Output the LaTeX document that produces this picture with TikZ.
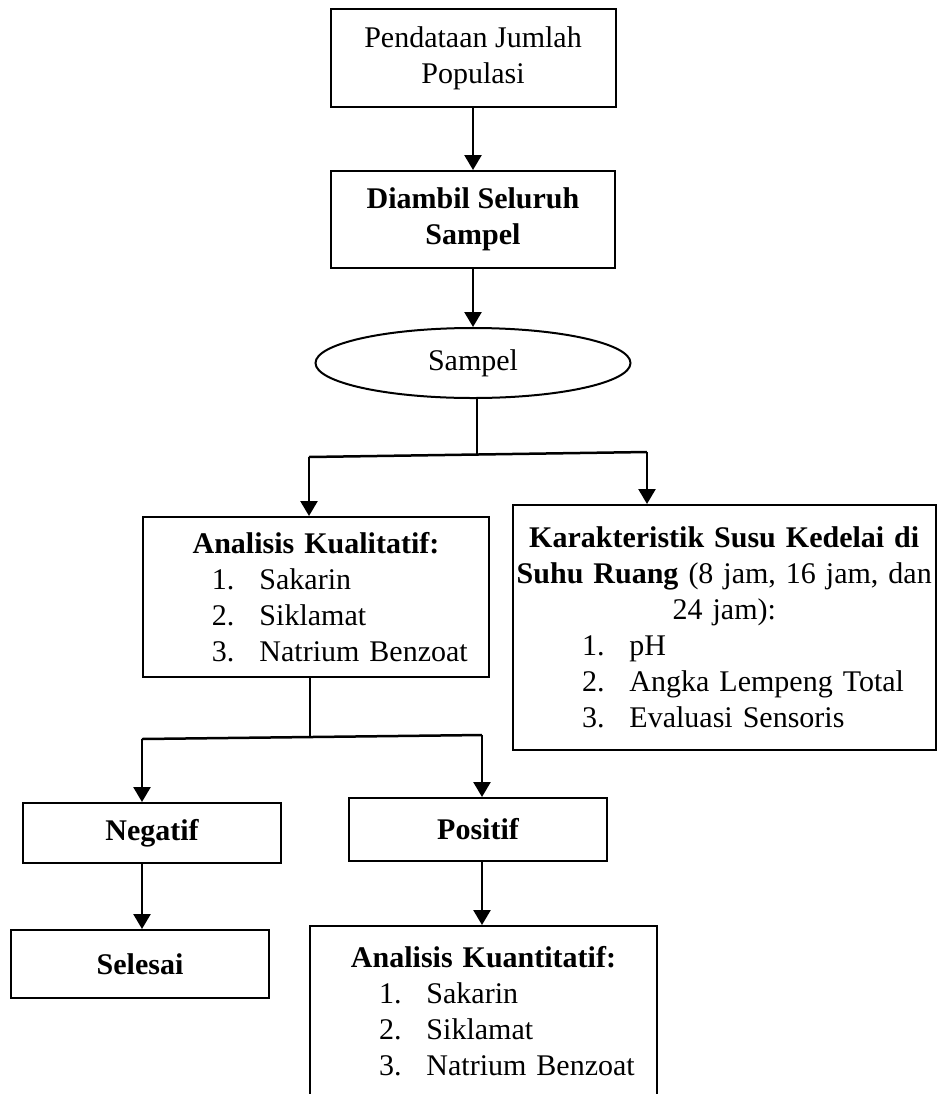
\documentclass[tikz,border=0pt]{standalone}
\usepackage{fontspec}
\setmainfont{Liberation Serif}
\usetikzlibrary{arrows.meta,shapes.geometric}
\newcommand{\listline}[2]{\hspace*{27.6pt}\makebox[19pt][l]{#1}#2}
\newcommand{\midline}[1]{\makebox[\hsize][c]{#1}}

\begin{document}
\begin{tikzpicture}[
  x=0.4pt, y=-0.4pt,
  box/.style={draw,line width=0.8pt,align=center,inner sep=0pt,font=\fontsize{12pt}{14.4pt}\selectfont},
  boldbox/.style={box,font=\fontsize{12pt}{14.4pt}\selectfont\bfseries},
  listbox/.style={box,align=left},
  oval/.style={box,ellipse},
  arrow/.style={-{Triangle[width=6.8pt,length=6pt]},line width=1pt},
  link/.style={line width=1pt}
]
  \useasboundingbox (0,0) rectangle (937,1094);

  \node[box,minimum width=114pt,minimum height=39.2pt] (pend) at (473,58) {Pendataan Jumlah\\Populasi};
  \node[boldbox,minimum width=113.6pt,minimum height=38.8pt] (ambil) at (473,219.5) {Diambil Seluruh\\Sampel};
  \node[oval,minimum width=126pt,minimum height=28pt] (sampel) at (473,363) {Sampel};

  \node[listbox,text width=138.4pt,minimum height=64pt] (kual) at (316,597)
    {\noindent\midline{\textbf{Analisis Kualitatif:}}\\
     \listline{1.}{Sakarin}\\
     \listline{2.}{Siklamat}\\
     \listline{3.}{Natrium Benzoat}};
  \node[listbox,text width=169pt,minimum height=98pt] (karak) at (724.25,627.5)
    {\noindent\midline{\textbf{Karakteristik Susu Kedelai di}}\\
     \midline{\textbf{Suhu Ruang} (8 jam, 16 jam, dan}\\
     \midline{24 jam):}\\
     \listline{1.}{pH}\\
     \listline{2.}{Angka Lempeng Total}\\
     \listline{3.}{Evaluasi Sensoris}};

  \node[boldbox,minimum width=103.2pt,minimum height=24pt] (neg) at (152,833) {Negatif};
  \node[boldbox,minimum width=103.2pt,minimum height=25.2pt] (pos) at (478,829.5) {Positif};
  \node[boldbox,minimum width=103.2pt,minimum height=27.2pt] (sel) at (140,964) {Selesai};
  \node[listbox,text width=138.8pt,anchor=north,inner ysep=8pt,text depth=70pt] (kuan) at (483.5,925)
    {\noindent\midline{\textbf{Analisis Kuantitatif:}}\\
     \listline{1.}{Sakarin}\\
     \listline{2.}{Siklamat}\\
     \listline{3.}{Natrium Benzoat}};

  \coordinate (fork1) at (477,454);
  \coordinate (fork1l) at (309,457);
  \coordinate (fork1r) at (647,452);
  \coordinate (fork2) at (310,737);
  \coordinate (fork2l) at (142,739);
  \coordinate (fork2r) at (482,735);

  \draw[arrow] (pend) -- (ambil);
  \draw[arrow] (ambil) -- (sampel);
  \draw[link] (sampel.south -| fork1) -- (fork1);
  \draw[link] (fork1l) -- (fork1r);
  \draw[arrow] (fork1l) -- (fork1l |- kual.north);
  \draw[arrow] (fork1r) -- (fork1r |- karak.north);

  \draw[link] (kual.south -| fork2) -- (fork2);
  \draw[link] (fork2l) -- (fork2r);
  \draw[arrow] (fork2l) -- (fork2l |- neg.north);
  \draw[arrow] (fork2r) -- (fork2r |- pos.north);
  \draw[arrow] (neg.south -| fork2l) -- (sel.north -| fork2l);
  \draw[arrow] (pos.south -| fork2r) -- (kuan.north -| fork2r);
\end{tikzpicture}
\end{document}
